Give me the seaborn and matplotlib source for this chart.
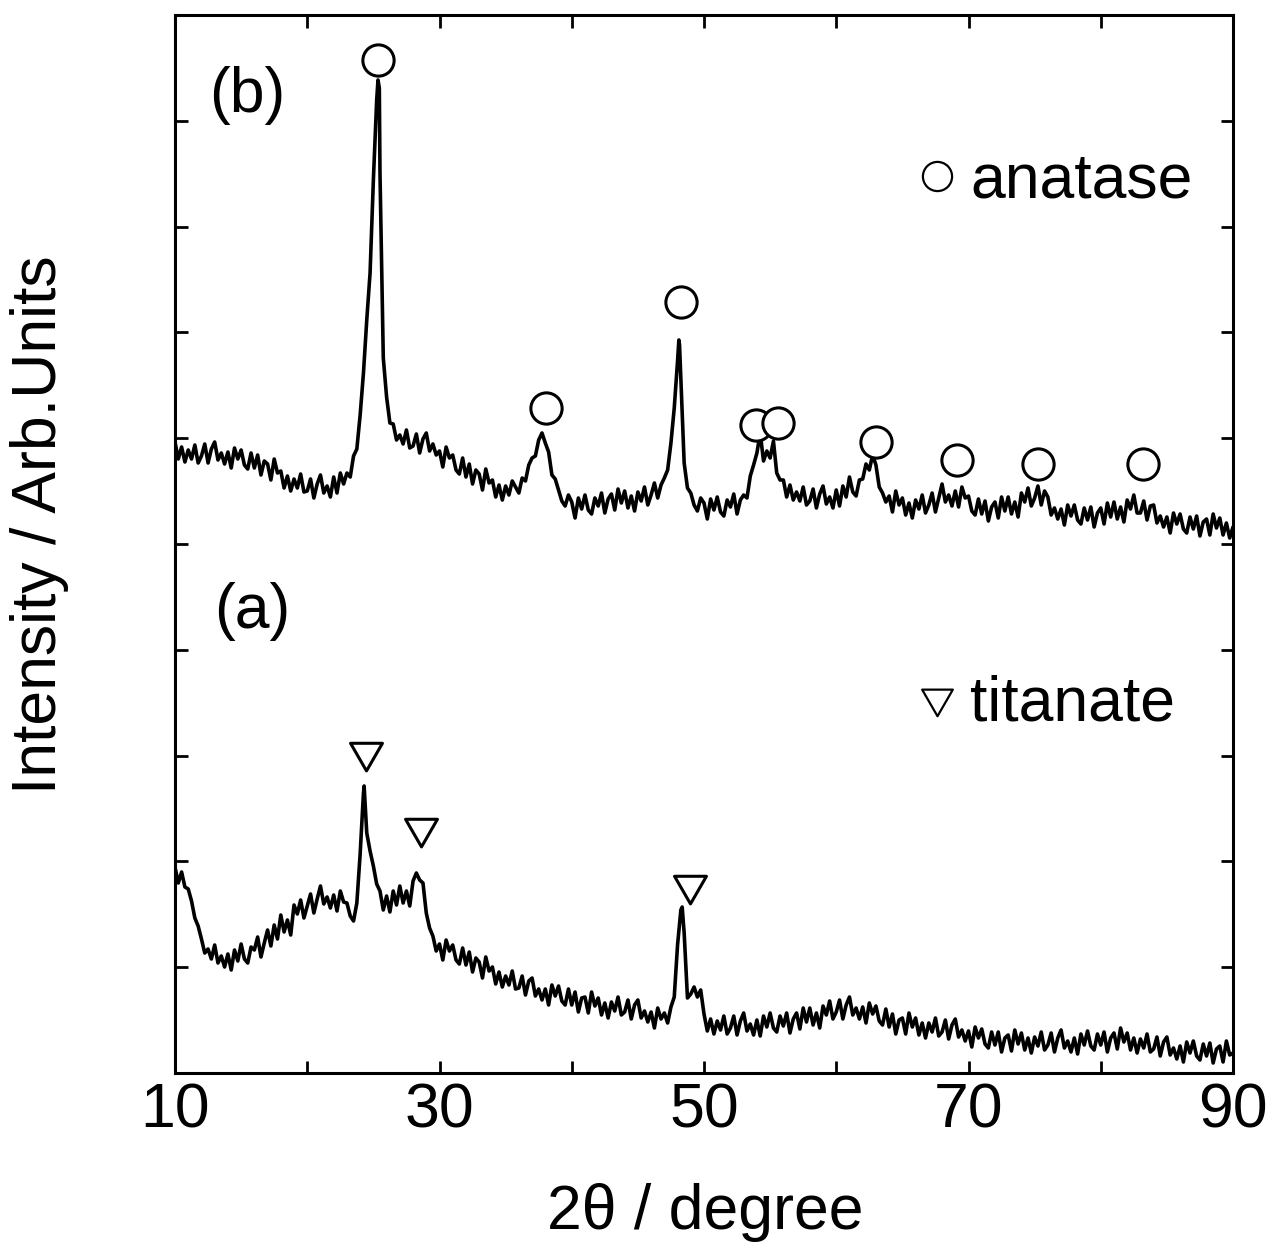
import numpy as np
import matplotlib
matplotlib.use("Agg")
import matplotlib.pyplot as plt
import seaborn as sns
from matplotlib.path import Path
from matplotlib.lines import Line2D

# ---------------- data ----------------
# 2theta sampling grid: 10..90 deg, 0.25 deg step; intensities in arbitrary counts
two_theta_start = 10.0
two_theta_step = 0.25

# (b) anatase sample, one row per degree (x.00, x.25, x.50, x.75)
intensity_b_rows = [
    [631, 614, 626, 611],  # 10
    [623, 614, 628, 610],  # 11
    [617, 629, 610, 624],  # 12
    [631, 613, 620, 609],  # 13
    [621, 605, 625, 614],  # 14
    [623, 608, 604, 620],  # 15
    [605, 618, 598, 612],  # 16
    [609, 593, 614, 600],  # 17
    [602, 585, 597, 582],  # 18
    [594, 585, 599, 581],  # 19
    [582, 594, 575, 589],  # 20
    [598, 580, 587, 576],  # 21
    [596, 580, 600, 589],  # 22
    [600, 596, 617, 624],  # 23
    [658, 700, 753, 800],  # 24
    [893, 973, 900, 715],  # 25
    [676, 650, 649, 633],  # 26
    [638, 629, 643, 625],  # 27
    [627, 639, 620, 634],  # 28
    [640, 622, 629, 618],  # 29
    [622, 606, 626, 615],  # 30
    [618, 603, 599, 615],  # 31
    [596, 609, 589, 603],  # 32
    [599, 583, 604, 590],  # 33
    [593, 576, 588, 573],  # 34
    [587, 578, 592, 586],  # 35
    [580, 595, 592, 608],  # 36
    [615, 617, 633, 640],  # 37
    [630, 621, 598, 594],  # 38
    [583, 572, 567, 578],  # 39
    [571, 555, 575, 564],  # 40
    [578, 563, 559, 575],  # 41
    [567, 580, 560, 574],  # 42
    [579, 563, 584, 570],  # 43
    [582, 565, 577, 562],  # 44
    [581, 572, 586, 568],  # 45
    [578, 590, 575, 588],  # 46
    [595, 603, 630, 665],  # 47
    [712, 695, 610, 585],  # 48
    [580, 568, 562, 575],  # 49
    [570, 554, 574, 563],  # 50
    [576, 561, 557, 573],  # 51
    [566, 579, 559, 573],  # 52
    [578, 575, 597, 608],  # 53
    [620, 640, 612, 622],  # 54
    [615, 632, 600, 593],  # 55
    [593, 576, 588, 573],  # 56
    [581, 572, 586, 568],  # 57
    [572, 584, 565, 579],  # 58
    [587, 569, 576, 565],  # 59
    [583, 567, 587, 576],  # 60
    [596, 581, 577, 593],  # 61
    [594, 609, 603, 618],  # 62
    [608, 586, 580, 571],  # 63
    [577, 561, 582, 568],  # 64
    [575, 558, 570, 555],  # 65
    [573, 564, 578, 560],  # 66
    [568, 580, 561, 575],  # 67
    [589, 571, 578, 567],  # 68
    [582, 566, 586, 575],  # 69
    [577, 562, 558, 574],  # 70
    [559, 572, 552, 566],  # 71
    [571, 555, 576, 562],  # 72
    [576, 559, 571, 556],  # 73
    [580, 571, 585, 567],  # 74
    [575, 587, 568, 582],  # 75
    [576, 558, 565, 554],  # 76
    [564, 548, 568, 557],  # 77
    [568, 553, 549, 565],  # 78
    [553, 566, 546, 560],  # 79
    [565, 549, 570, 556],  # 80
    [571, 554, 566, 551],  # 81
    [573, 564, 578, 560],  # 82
    [560, 572, 553, 567],  # 83
    [568, 550, 557, 546],  # 84
    [556, 540, 560, 549],  # 85
    [559, 544, 540, 556],  # 86
    [544, 557, 537, 551],  # 87
    [554, 538, 559, 545],  # 88
    [555, 538, 550, 535],  # 89
    [546],                 # 90
]
# extra points at the sharp peak tops of (b)
peak_theta_b = [25.35, 25.45, 48.1, 48.15]
peak_int_b = [993, 985, 733, 728]

# (a) titanate sample
intensity_a_rows = [
    [206, 190, 201, 186],  # 10
    [184, 172, 155, 147],  # 11
    [134, 120, 124, 114],  # 12
    [128, 110, 117, 106],  # 13
    [119, 103, 123, 112],  # 14
    [129, 114, 110, 126],  # 15
    [123, 136, 116, 130],  # 16
    [143, 127, 148, 134],  # 17
    [158, 141, 153, 138],  # 18
    [168, 159, 173, 155],  # 19
    [167, 179, 160, 174],  # 20
    [187, 169, 176, 165],  # 21
    [178, 162, 182, 171],  # 22
    [170, 157, 152, 170],  # 23
    [219, 280, 240, 222],  # 24
    [207, 189, 182, 163],  # 25
    [177, 161, 182, 168],  # 26
    [187, 170, 182, 167],  # 27
    [192, 200, 193, 190],  # 28
    [160, 145, 137, 122],  # 29
    [129, 113, 133, 122],  # 30
    [128, 113, 109, 125],  # 31
    [108, 121, 101, 115],  # 32
    [111, 95, 116, 102],   # 33
    [106, 89, 101, 86],    # 34
    [97, 88, 102, 84],     # 35
    [85, 97, 78, 92],      # 36
    [95, 77, 84, 73],      # 37
    [84, 68, 88, 77],      # 38
    [87, 72, 68, 84],      # 39
    [68, 81, 61, 75],      # 40
    [76, 60, 81, 67],      # 41
    [75, 58, 70, 55],      # 42
    [71, 62, 76, 58],      # 43
    [61, 73, 54, 68],      # 44
    [73, 55, 62, 51],      # 45
    [61, 45, 65, 54],      # 46
    [60, 50, 66, 76],      # 47
    [128, 163, 140, 75],   # 48
    [79, 86, 76, 83],      # 49
    [59, 42, 54, 39],      # 50
    [52, 43, 57, 39],      # 51
    [45, 57, 38, 52],      # 52
    [60, 42, 49, 38],      # 53
    [53, 37, 57, 46],      # 54
    [60, 45, 41, 57],      # 55
    [47, 60, 40, 54],      # 56
    [60, 44, 65, 51],      # 57
    [65, 48, 60, 45],      # 58
    [67, 58, 72, 54],      # 59
    [61, 73, 54, 68],      # 60
    [76, 58, 65, 54],      # 61
    [66, 50, 70, 59],      # 62
    [67, 52, 48, 64],      # 63
    [46, 59, 39, 53],      # 64
    [55, 39, 60, 46],      # 65
    [55, 38, 50, 35],      # 66
    [50, 41, 55, 37],      # 67
    [41, 53, 34, 48],      # 68
    [54, 36, 43, 32],      # 69
    [42, 26, 46, 35],      # 70
    [44, 29, 25, 41],      # 71
    [28, 41, 21, 35],      # 72
    [38, 22, 43, 29],      # 73
    [40, 23, 35, 20],      # 74
    [36, 27, 41, 23],      # 75
    [28, 40, 21, 35],      # 76
    [43, 25, 32, 21],      # 77
    [35, 19, 39, 28],      # 78
    [42, 27, 23, 39],      # 79
    [28, 41, 21, 35],      # 80
    [40, 24, 45, 31],      # 81
    [40, 23, 35, 20],      # 82
    [34, 25, 39, 21],      # 83
    [24, 36, 17, 31],      # 84
    [36, 18, 25, 14],      # 85
    [27, 11, 31, 20],      # 86
    [32, 17, 13, 29],      # 87
    [17, 30, 10, 24],      # 88
    [27, 11, 32, 18],      # 89
    [20],                  # 90
]
peak_theta_a = [24.3, 48.35]
peak_int_a = [287, 166]

# phase markers
anatase_theta = [25.35, 38.05, 48.26, 53.93, 55.6, 63.0, 69.13, 75.26, 83.2]
anatase_pos = [1013, 665, 771, 648, 650, 631, 613, 609, 609]
titanate_theta = [24.44, 28.6, 48.94]
titanate_pos = [321, 245, 188]

panel_labels = ["(b)", "(a)"]
legend_labels = ["anatase", "titanate"]
x_tick_values = [10, 20, 30, 40, 50, 60, 70, 80, 90]
x_tick_labels = ["10", "", "30", "", "50", "", "70", "", "90"]
x_label = "2θ / degree"
y_label = "Intensity / Arb.Units"


def build_series(rows, extra_x, extra_y):
    vals = [v for r in rows for v in r]
    xs = [two_theta_start + two_theta_step * i for i in range(len(vals))]
    xs = xs + list(extra_x)
    vals = vals + list(extra_y)
    order = np.argsort(xs)
    return np.asarray(xs)[order], np.asarray(vals, dtype=float)[order]


xb, yb = build_series(intensity_b_rows, peak_theta_b, peak_int_b)
xa, ya = build_series(intensity_a_rows, peak_theta_a, peak_int_a)

# ---------------- styling ----------------
sns.set_style("ticks")
plt.rcParams["font.family"] = ["Liberation Sans", "DejaVu Sans"]
plt.rcParams["axes.linewidth"] = 2.2
plt.rcParams["text.color"] = "black"
plt.rcParams["axes.labelcolor"] = "black"
plt.rcParams["xtick.color"] = "black"
plt.rcParams["ytick.color"] = "black"
plt.rcParams["axes.edgecolor"] = "black"

W, H = 1274, 1253
fig = plt.figure(figsize=(W / 100, H / 100), dpi=100)
ax = fig.add_axes([175 / W, (H - 1073) / H, (1233 - 175) / W, (1073 - 15) / H])

sns.lineplot(x=xb, y=yb, ax=ax, color="black", lw=2.6, estimator=None, sort=False)
sns.lineplot(x=xa, y=ya, ax=ax, color="black", lw=2.6, estimator=None, sort=False)

# equilateral down-pointing triangle marker
tri = Path([(-0.5, 0.289), (0.5, 0.289), (0.0, -0.577), (-0.5, 0.289)],
           [Path.MOVETO, Path.LINETO, Path.LINETO, Path.CLOSEPOLY])

ax.plot(anatase_theta, anatase_pos, linestyle="none", marker="o",
        ms=22.5, mfc="white", mec="black", mew=2.2)
ax.plot(titanate_theta, titanate_pos, linestyle="none", marker=tri,
        ms=26.5, mfc="white", mec="black", mew=2.2)

ax.set_xlim(10, 90)
ax.set_ylim(0, 1058)
ax.set_xticks(x_tick_values)
ax.set_xticklabels(x_tick_labels)
ax.set_yticks([105.8 * k for k in range(1, 10)])
ax.set_yticklabels([])
ax.tick_params(axis="both", which="major", direction="in", length=9, width=2,
               top=True, right=True, labelsize=45, pad=6, colors="black")
ax.set_xlabel("")
ax.set_ylabel("")
for s in ax.spines.values():
    s.set_visible(True)
    s.set_color("black")

fig.text(705 / W, 1 - 1212 / H, x_label, fontsize=45, ha="center", va="center",
         color="black")
fig.text(40 / W, 1 - 525 / H, y_label, fontsize=45, ha="center", va="center",
         rotation=90, color="black")

ax.text(0.032, 0.924, panel_labels[0], transform=ax.transAxes, fontsize=45,
        ha="left", va="center", color="black")
ax.text(0.037, 0.436, panel_labels[1], transform=ax.transAxes, fontsize=45,
        ha="left", va="center", color="black")

# legend keys (thinner outline, as in the reference)
key_circ = Line2D([], [], linestyle="none", marker="o", ms=21, mfc="white",
                  mec="black", mew=1.6)
key_tri = Line2D([], [], linestyle="none", marker=tri, ms=25.5, mfc="white",
                 mec="black", mew=1.6)

leg_kw = dict(frameon=False, fontsize=45, handlelength=0.5, handletextpad=0.28,
              borderpad=0, borderaxespad=0, numpoints=1,
              loc="center left", labelcolor="black")
leg1 = ax.legend(handles=[key_circ], labels=[legend_labels[0]],
                 bbox_to_anchor=(0.7055, 0.843), **leg_kw)
ax.add_artist(leg1)
leg2 = ax.legend(handles=[key_tri], labels=[legend_labels[1]],
                 bbox_to_anchor=(0.7055, 0.349), **leg_kw)

fig.savefig("out.png", dpi=100)
